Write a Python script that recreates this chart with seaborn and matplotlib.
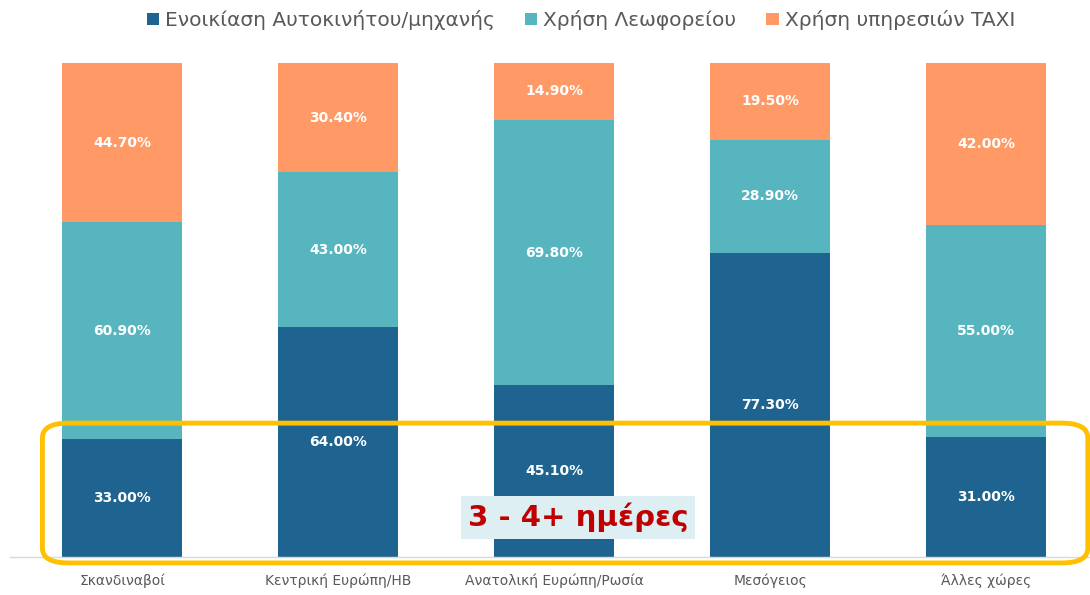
import matplotlib
matplotlib.use("Agg")
import matplotlib.pyplot as plt
import seaborn as sns
import pandas as pd
import numpy as np
from matplotlib.patches import FancyBboxPatch, Patch

sns.set_style("white")
plt.rcParams["font.family"] = ["DejaVu Sans"]

# δεδομένα (ποσοστά όπως φαίνονται στις ετικέτες)
regions = ["Σκανδιναβοί", "Κεντρική Ευρώπη/ΗΒ", "Ανατολική Ευρώπη/Ρωσία", "Μεσόγειος", "Άλλες χώρες"]
car = [33.0, 64.0, 45.1, 77.3, 31.0]
bus = [60.9, 43.0, 69.8, 28.9, 55.0]
taxi = [44.7, 30.4, 14.9, 19.5, 42.0]
series_names = ["Ενοικίαση Αυτοκινήτου/μηχανής", "Χρήση Λεωφορείου", "Χρήση υπηρεσιών TAXI"]
colors = ["#1F6391", "#57B5BF", "#FF9A66"]

df = pd.DataFrame({"region": regions, "car": car, "bus": bus, "taxi": taxi})
total = df["car"] + df["bus"] + df["taxi"]
# κανονικοποίηση σε 100% στοιβαγμένες μπάρες
df["c1"] = df["car"] / total
df["c2"] = (df["car"] + df["bus"]) / total
df["c3"] = 1.0

fig = plt.figure(figsize=(10.9, 5.95), dpi=100)
ax = fig.add_axes([10 / 1090, 38 / 595, 1080 / 1090, 494 / 595])

# από πάνω προς τα κάτω ώστε να φαίνεται η στοίβα
for col, c in zip(["c3", "c2", "c1"], colors[::-1]):
    sns.barplot(data=df, x="region", y=col, color=c, width=0.556,
                saturation=1, ax=ax, edgecolor="none")

ax.set_xlim(-0.52, 4.48)
ax.set_ylim(0, 1)
ax.set_xlabel("")
ax.set_ylabel("")
ax.set_yticks([])
for s in ["top", "right", "left"]:
    ax.spines[s].set_visible(False)
ax.spines["bottom"].set_color("#D9D9D9")
ax.spines["bottom"].set_linewidth(1)
ax.tick_params(axis="x", length=0, pad=12, labelsize=10, labelcolor="#595959")

# ετικέτες τιμών στο κέντρο κάθε τμήματος
x = np.arange(len(regions))
lows = [np.zeros(len(regions)), df["c1"].values, df["c2"].values]
highs = [df["c1"].values, df["c2"].values, df["c3"].values]
vals = [car, bus, taxi]
for lo, hi, v in zip(lows, highs, vals):
    for xi, a, b, val in zip(x, lo, hi, v):
        ax.text(xi, (a + b) / 2, f"{val:.2f}%", ha="center", va="center",
                color="white", fontsize=10, fontweight="bold")

# κίτρινο πλαίσιο επισήμανσης
frame = FancyBboxPatch((-0.37, -0.012), 4.84, 0.283,
                       boxstyle="round,pad=0,rounding_size=0.12",
                       mutation_aspect=0.25,
                       facecolor="none", edgecolor="#FFC000", linewidth=3.5,
                       clip_on=False, zorder=5)
ax.add_patch(frame)

ax.text(2.11, 0.08, "3 - 4+ ημέρες", ha="center", va="center",
        color="#C00000", fontsize=21, fontweight="bold", zorder=6,
        bbox=dict(boxstyle="square,pad=0.22", facecolor="#DDEFF2", edgecolor="none"))

# υπόμνημα
handles = [Patch(facecolor=c, edgecolor="none") for c in colors]
fig.legend(handles, series_names, loc="center", bbox_to_anchor=(581 / 1090, 1 - 20 / 595),
           ncol=3, frameon=False, handlelength=0.6, handleheight=0.6,
           handletextpad=0.3, columnspacing=1.5, labelcolor="#595959",
           prop={"family": ["DejaVu Sans"], "size": 14.5})

fig.savefig("out.png", dpi=100)
